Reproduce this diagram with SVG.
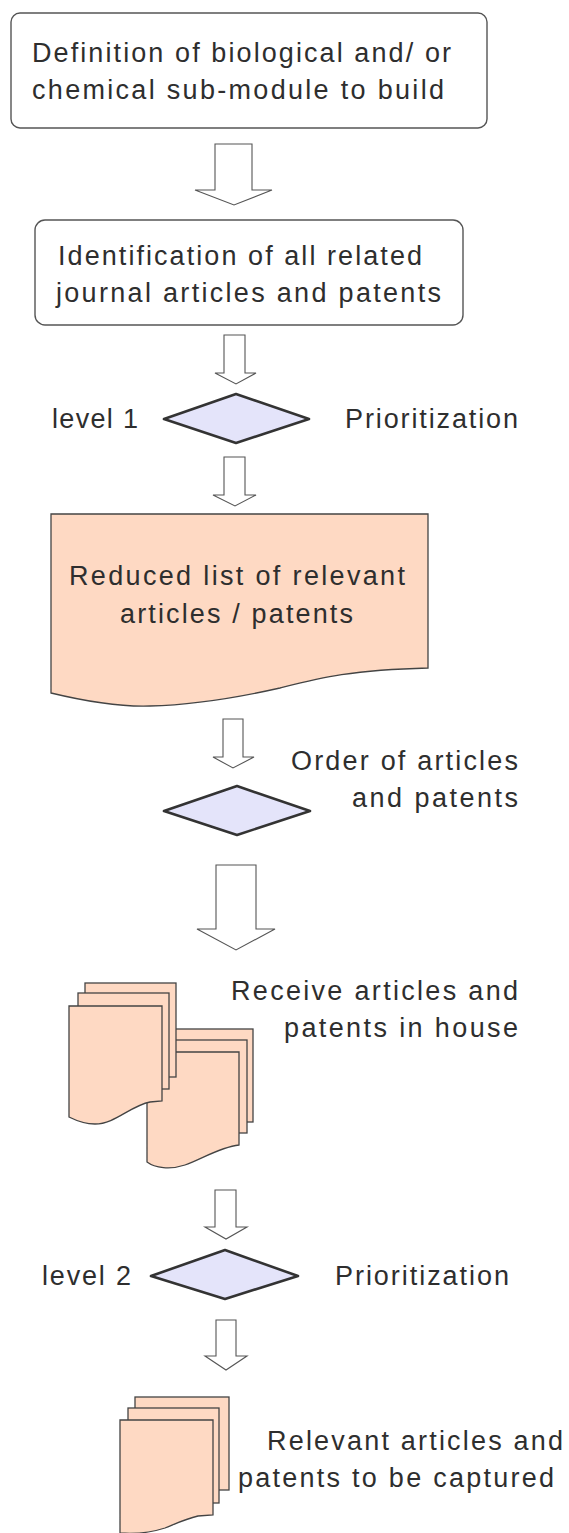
<svg xmlns="http://www.w3.org/2000/svg" width="569" height="1533" viewBox="0 0 569 1533">
<defs>
<style>
.bg{fill:#ffffff}
.box{fill:#ffffff;stroke:#555555;stroke-width:1.4}
.doc{fill:#fed9c3;stroke:#444444;stroke-width:1.3}
.dia{fill:#e4e4fa;stroke:#333333;stroke-width:2.6;stroke-linejoin:round}
.arr{fill:#ffffff;stroke:#555555;stroke-width:1.1}
text{font-family:"Liberation Sans",Arial,sans-serif;font-size:27px;fill:#2e2e2e}
</style>
</defs>
<rect class="bg" x="0" y="0" width="569" height="1533"/>
<g id="connectors">
<polygon class="arr" points="215,144 252,144 252,190 272,190 234,205 195,190 215,190"/>
<polygon class="arr" points="224,335 245,335 245,373 256,373 236,384 215,373 224,373"/>
<polygon class="arr" points="224,457 245,457 245,495 256,495 235,506 213,495 224,495"/>
<polygon class="arr" points="223,719 243,719 243,757 254,757 233,768 213,757 223,757"/>
<polygon class="arr" points="216,865 256,865 256,929 275,929 236,950 197,929 216,929"/>
<polygon class="arr" points="215,1190 236,1190 236,1227 247,1227 226,1239 205,1227 215,1227"/>
<polygon class="arr" points="216,1320 236,1320 236,1356 247,1356 226,1370 205,1356 216,1356"/>
</g>
<g id="node-definition">
<rect class="box" x="11" y="13" width="476" height="115" rx="9"/>
<text x="32" y="62" textLength="419" lengthAdjust="spacing">Definition of biological and/ or</text>
<text x="32" y="99" textLength="412" lengthAdjust="spacing">chemical sub-module to build</text>
</g>
<g id="node-identification">
<rect class="box" x="35" y="220" width="428" height="105" rx="10"/>
<text x="58" y="265" textLength="364" lengthAdjust="spacing">Identification of all related</text>
<text x="56" y="302" textLength="385" lengthAdjust="spacing">journal articles and patents</text>
</g>
<g id="node-prioritization1">
<polygon class="dia" points="236,394 309,419 236,443 164,419"/>
<text x="52" y="428" textLength="86" lengthAdjust="spacing">level 1</text>
<text x="345" y="428" textLength="173" lengthAdjust="spacing">Prioritization</text>
</g>
<g id="node-reduced-list">
<path class="doc" d="M51,514 H428 V668 C350,670 320,678 280,688 C240,697 190,705 150,706 C120,707 80,700 51,693 Z"/>
<text x="69" y="585" textLength="336" lengthAdjust="spacing">Reduced list of relevant</text>
<text x="120" y="623" textLength="233" lengthAdjust="spacing">articles / patents</text>
</g>
<g id="node-order">
<polygon class="dia" points="237,786 310,811 237,835 164,811"/>
<text x="291" y="770" textLength="227" lengthAdjust="spacing">Order of articles</text>
<text x="352" y="807" textLength="166" lengthAdjust="spacing">and patents</text>
</g>
<g id="node-receive">
<rect class="doc" x="162" y="1029" width="91" height="93"/>
<rect class="doc" x="155" y="1040" width="92" height="93"/>
<path class="doc" d="M147,1052 H239 V1145 C220,1147 200,1160 185,1165 C170,1170 155,1168 147,1162 Z"/>
<rect class="doc" x="85" y="983" width="91" height="94"/>
<rect class="doc" x="78" y="993" width="91" height="96"/>
<path class="doc" d="M69,1006 H162 V1101 L150,1102 C130,1106 115,1124 95,1124 C85,1124 75,1120 69,1117 Z"/>
<text x="231" y="1000" textLength="287" lengthAdjust="spacing">Receive articles and</text>
<text x="284" y="1037" textLength="234" lengthAdjust="spacing">patents in house</text>
</g>
<g id="node-prioritization2">
<polygon class="dia" points="225,1250 298,1276 225,1299 151,1276"/>
<text x="42" y="1285" textLength="89" lengthAdjust="spacing">level 2</text>
<text x="335" y="1285" textLength="174" lengthAdjust="spacing">Prioritization</text>
</g>
<g id="node-relevant">
<rect class="doc" x="135" y="1397" width="94" height="93"/>
<rect class="doc" x="128" y="1408" width="91" height="95"/>
<path class="doc" d="M120,1420 H213 V1515 L198,1516 C185,1519 175,1524 165,1528 C150,1533 135,1534 120,1533 Z"/>
<text x="267" y="1450" textLength="296" lengthAdjust="spacing">Relevant articles and</text>
<text x="238" y="1487" textLength="316" lengthAdjust="spacing">patents to be captured</text>
</g>
</svg>
